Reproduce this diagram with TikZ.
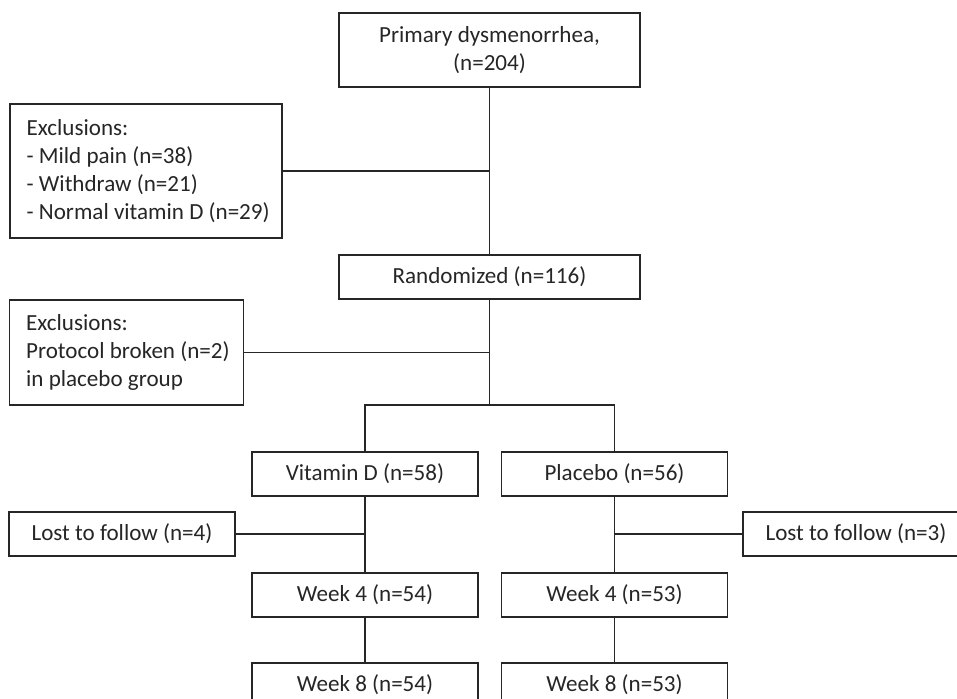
\documentclass[tikz,border=0pt]{standalone}
\usepackage{fontspec}
\setmainfont{Carlito}
\begin{document}
\begin{tikzpicture}[x=0.75pt,y=-0.75pt,
  txt/.style={text=black!85, font=\fontsize{17.3}{21}\selectfont},
  box/.style={draw=black!85, line width=0.9pt, fill=white, txt, inner sep=0pt, align=center},
  ltext/.style={txt, align=left, anchor=west, inner sep=0pt},
  conn/.style={draw=black!85, line width=0.9pt}]
\useasboundingbox (0,0) rectangle (957,699);
\clip (0,0) rectangle (957,699);
\fill[white] (0,0) rectangle (957,699);

\node[box, minimum width=225.75pt, minimum height=55.5pt] (top) at (489.5,50) {Primary dysmenorrhea,\\(n=204)};
\node[box, minimum width=204pt, minimum height=100.5pt] (ex1) at (146,171) {};
\node[ltext] (ex1t) at ([xshift=12.75pt]ex1.west) {Exclusions:\\- Mild pain (n=38)\\- Withdraw (n=21)\\- Normal vitamin D (n=29)};
\node[box, minimum width=225.75pt, minimum height=33pt] (rand) at (489.5,277) {Randomized (n=116)};
\node[box, minimum width=175.5pt, minimum height=78.75pt] (ex2) at (126.5,352.5) {};
\node[ltext] (ex2t) at ([xshift=12.75pt]ex2.west) {Exclusions:\\Protocol broken (n=2)\\in placebo group};
\coordinate (br) at (489.5,405);

\node[box, minimum width=169.5pt, minimum height=33pt] (vd) at (365,474) {Vitamin D (n=58)};
\node[box, minimum width=169.5pt, minimum height=33pt] (pl) at (614.5,474) {Placebo (n=56)};
\node[box, minimum width=169.5pt, minimum height=33pt] (lostL) at (122,534) {Lost to follow (n=4)};
\node[box, minimum width=169.5pt, minimum height=33pt] (lostR) at (856,534) {Lost to follow (n=3)};
\node[box, minimum width=169.5pt, minimum height=33pt] (w4l) at (365,595) {Week 4 (n=54)};
\node[box, minimum width=169.5pt, minimum height=33pt] (w4r) at (614.5,595) {Week 4 (n=53)};
\node[box, minimum width=169.5pt, minimum height=33pt] (w8l) at (365,685) {Week 8 (n=54)};
\node[box, minimum width=169.5pt, minimum height=33pt] (w8r) at (614.5,685) {Week 8 (n=53)};

\draw[conn] (top.south) -- (rand.north);
\draw[conn] (ex1.east) -- (ex1.east -| top.south);
\draw[conn] (rand.south) -- (br);
\draw[conn] (ex2.east) -- (ex2.east -| rand.south);
\draw[conn] (vd.north) -- (vd.north |- br) -- (pl.north |- br) -- (pl.north);
\draw[conn] (vd.south) -- (w4l.north);
\draw[conn] (lostL.east) -- (lostL.east -| vd.south);
\draw[conn] (w4l.south) -- (w8l.north);
\draw[conn] (pl.south) -- (w4r.north);
\draw[conn] (lostR.west) -- (lostR.west -| pl.south);
\draw[conn] (w4r.south) -- (w8r.north);
\end{tikzpicture}
\end{document}
